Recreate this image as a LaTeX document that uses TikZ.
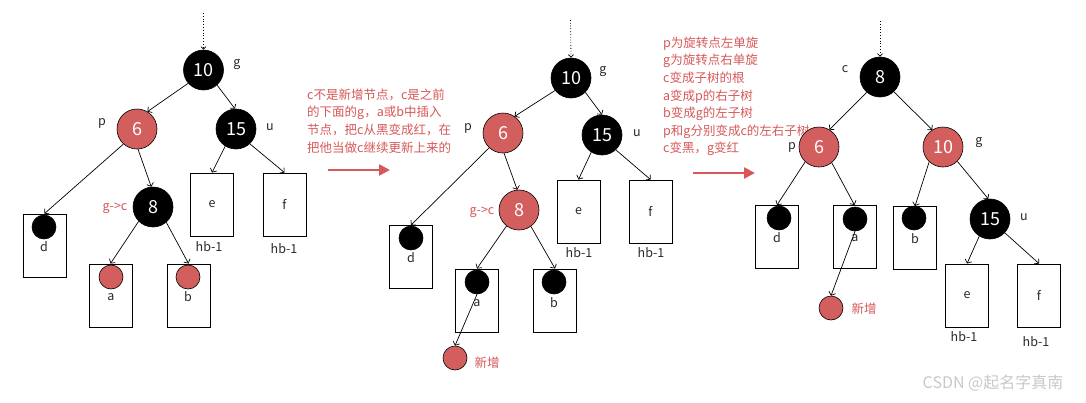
\documentclass[tikz,border=0pt]{standalone}
\usepackage{fontspec}
\setmainfont{Noto Sans CJK SC}
\usetikzlibrary{arrows.meta}
\definecolor{nred}{RGB}{211,94,94}
\definecolor{tred}{RGB}{214,88,88}
\definecolor{lbl}{RGB}{40,40,40}
\definecolor{wm}{RGB}{200,200,200}
\begin{document}
\begin{tikzpicture}[x=1pt,y=-1pt,
 edge/.style={line width=0.7pt,-{Straight Barb[length=3pt,width=7pt]}},
 bnode/.style={circle,draw=black,line width=0.6pt,fill=black,text=white,minimum size=40pt,inner sep=0pt,font=\fontsize{18}{18}\selectfont},
 rnode/.style={bnode,fill=nred},
 leafbox/.style={rectangle,draw=black,line width=0.9pt,minimum width=43pt,minimum height=63pt,inner sep=0pt,text=lbl,font=\fontsize{12.5}{14}\selectfont},
 bdot/.style={circle,draw=black,line width=0.6pt,fill=black,minimum size=24pt,inner sep=0pt},
 rdot/.style={bdot,fill=nred},
 lab/.style={text=lbl,font=\fontsize{12.5}{14}\selectfont,inner sep=0pt},
 rlab/.style={lab,text=tred},
 note/.style={text=tred,font=\fontsize{12.5}{17.6}\selectfont,align=left,anchor=north west,inner sep=0pt},
 redarrow/.style={draw=tred,line width=2.5pt,-{Triangle[length=11pt,width=11pt]}},
 dotarrow/.style={dotted,line width=0.8pt,-{Straight Barb[length=2.5pt,width=5pt]}}
]
\useasboundingbox (0,0) rectangle (1086,402);

% ---------------- left tree ----------------
\node[leafbox] (Ldb) at (44.5,245.5) {};
\node[leafbox] (Lab) at (110.5,295.5) {};
\node[leafbox] (Lbb) at (188.5,295.5) {};
\node[leafbox] (Le) at (212,204.5) {e};
\node[leafbox] (Lf) at (284.5,204.5) {f};
\node[bdot] (Ld) at (44,227) {};
\node[rdot] (La) at (111,277) {};
\node[rdot] (Lb) at (188,277) {};
\node[lab] (Ldl) at (44,247) {d};
\node[lab] (Lal) at (111,297) {a};
\node[lab] (Lbl) at (188,297) {b};
\node[lab] (Lhe) at (209,247) {hb-1};
\node[lab] (Lhf) at (284,249) {hb-1};
\node[bnode] (L10) at (203.5,70) {10};
\node[rnode] (L6) at (137,129) {6};
\node[bnode] (L15) at (236,129) {15};
\node[bnode] (L8) at (153,207) {8};
\node[lab] (Lg) at (237,65) {g};
\node[lab] (Lp) at (102,123) {p};
\node[lab] (Lu) at (270,127) {u};
\node[rlab] (Lgc) at (115,208) {g->c};
\coordinate (Ltop) at (203.5,13);
\draw[dotarrow] (Ltop) -- (L10.north);
\draw[edge] (L10.221) -- (L6.59);
\draw[edge] (L10.312) -- (L15.93);
\draw[edge] (L6.228) -- (Ldb.north);
\draw[edge] (L6.273) -- (L8.95);
\draw[edge] (L15.238) -- (Le.north);
\draw[edge] (L15.313) -- (Lf.north);
\draw[edge] (L8.225) -- (Lab.north);
\draw[edge] (L8.311) -- (Lbb.north);

% ---------------- first note ----------------
\node[note] (N1) at (307,88.5) {c不是新增节点，c是之前\\的下面的g，a或b中插入\\节点，把c从黑变成红，在\\把他当做c继续更新上来的};
\coordinate (A1s) at (328,170);
\coordinate (A1e) at (390,170);
\draw[redarrow] (A1s) -- (A1e);

% ---------------- middle tree ----------------
\node[leafbox] (Mdb) at (411,257) {};
\node[leafbox] (Mab) at (477,300.5) {};
\node[leafbox] (Mbb) at (555,300.5) {};
\node[leafbox] (Me) at (578.5,211.5) {e};
\node[leafbox] (Mf) at (650.5,211.5) {f};
\node[bdot] (Md) at (411,238) {};
\node[bdot] (Ma) at (477,282) {};
\node[bdot] (Mb) at (554,282) {};
\node[lab] (Mdl) at (411,258) {d};
\node[lab] (Mal) at (477,303) {a};
\node[lab] (Mbl) at (554,303) {b};
\node[lab] (Mhe) at (579,253) {hb-1};
\node[lab] (Mhf) at (651,253) {hb-1};
\node[bnode] (M10) at (571,78) {10};
\node[rnode] (M6) at (503,133) {6};
\node[bnode] (M15) at (602,135) {15};
\node[rnode] (M8) at (519,210) {8};
\node[lab] (Mg) at (603,72) {g};
\node[lab] (Mp) at (468,128) {p};
\node[lab] (Mu) at (637,133) {u};
\node[rlab] (Mgc) at (482,212) {g->c};
\node[rdot] (Mnew) at (455,358) {};
\node[rlab] (Mnewl) at (487,363) {新增};
\coordinate (Mtop) at (570.5,20);
\draw[dotarrow] (Mtop) -- (M10.north);
\draw[edge] (M10.218) -- (M6.55);
\draw[edge] (M10.315) -- (M15.90);
\draw[edge] (M6.227) -- (Mdb.north);
\draw[edge] (M6.273) -- (M8.95);
\draw[edge] (M15.238) -- (Me.north);
\draw[edge] (M15.313) -- (Mf.north);
\draw[edge] (M8.232) -- (Mab.north);
\draw[edge] (M8.306) -- (Mbb.north);
\draw[edge] (Ma.south) -- (Mnew.north);

% ---------------- second note ----------------
\node[note] (N2) at (663,36.5) {p为旋转点左单旋\\g为旋转点右单旋\\c变成子树的根\\a变成p的右子树\\b变成g的左子树\\p和g分别变成c的左右子树\\c变黑，g变红};
\coordinate (A2s) at (693,173);
\coordinate (A2e) at (755,173);
\draw[redarrow] (A2s) -- (A2e);

% ---------------- right tree ----------------
\node[leafbox] (Rdb) at (777,237) {};
\node[leafbox] (Rab) at (854.5,237) {};
\node[leafbox] (Rbb) at (915,238) {};
\node[leafbox] (Re) at (967,295.5) {e};
\node[leafbox] (Rf) at (1039,295.5) {f};
\node[bdot] (Rd) at (779,218) {};
\node[bdot] (Ra) at (855,219) {};
\node[bdot] (Rb) at (914,218) {};
\node[lab] (Rdl) at (777,238) {d};
\node[lab] (Ral) at (855,238) {a};
\node[lab] (Rbl) at (915,239) {b};
\node[lab] (Rhe) at (964,337) {hb-1};
\node[lab] (Rhf) at (1036,342) {hb-1};
\node[bnode] (R8) at (880,77) {8};
\node[rnode] (R6) at (819,147) {6};
\node[rnode] (R10) at (943,147) {10};
\node[bnode] (R15) at (990,219) {15};
\node[lab] (Rc) at (845,69) {c};
\node[lab] (Rp) at (792,147) {p};
\node[lab] (Rg) at (979,143) {g};
\node[lab] (Ru) at (1024,217) {u};
\node[rdot] (Rnew) at (831,308) {};
\node[rlab] (Rnewl) at (864,309) {新增};
\coordinate (Rtop) at (880,21);
\draw[dotarrow] (Rtop) -- (R8.north);
\draw[edge] (R8.229) -- (R6.59);
\draw[edge] (R8.313) -- (R10.122);
\draw[edge] (R6.227) -- (Rdb.north);
\draw[edge] (R6.309) -- (Rab.north);
\draw[edge] (R10.227) -- (Rbb.north);
\draw[edge] (R10.315) -- (R15.95);
\draw[edge] (R15.238) -- (Re.north);
\draw[edge] (R15.317) -- (Rf.north);
\draw[edge] (Ra.south) -- (Rnew.north);

% watermark
\node[text=wm,font=\fontsize{16}{18}\selectfont,inner sep=0pt] (WM) at (993,383) {CSDN @起名字真南};
\end{tikzpicture}
\end{document}
